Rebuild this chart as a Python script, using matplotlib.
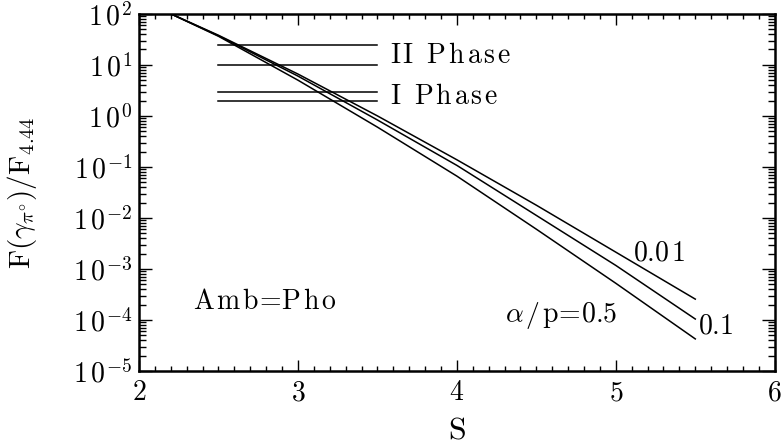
import numpy as np
import matplotlib
matplotlib.use("Agg")
import matplotlib.pyplot as plt
from matplotlib.ticker import FixedLocator, FuncFormatter, LogLocator, MultipleLocator

plt.rcParams['mathtext.fontset'] = 'cm'
plt.rcParams['font.family'] = 'serif'

# Data: S values and log10 of F ratio for each alpha/p
S = [2.2, 2.5, 3.0, 3.5, 4.0, 4.5, 5.0, 5.5]
logF_001 = [2.0, 1.58, 0.82, 0.00, -0.86, -1.75, -2.67, -3.59]
logF_01 = [2.0, 1.57, 0.78, -0.08, -0.97, -1.95, -2.93, -3.98]
logF_05 = [2.0, 1.56, 0.70, -0.22, -1.18, -2.22, -3.28, -4.37]

# Phase horizontal lines
phase_x = [2.5, 3.5]
phase2_levels = [25.0, 10.0]
phase1_levels = [3.0, 2.0]

xticks = [2, 3, 4, 5, 6]
yexps = [-5, -4, -3, -2, -1, 0, 1, 2]


def spaced(s, sp=0.12):
    """Letter-spaced mathtext string (roman)."""
    out = []
    n = len(s)
    for i, ch in enumerate(s):
        if ch == ' ':
            out.append(r'\ ')
        elif ch == '=':
            out.append(r'\!=\!')
        elif ch.isalpha():
            out.append(r'\mathrm{%s}' % ch)
        else:
            out.append(ch)
        if i < n - 1 and ch not in '=.' and s[i + 1] not in '=.':
            out.append(r'\hspace{%g}' % sp)
    return ''.join(out)


fig = plt.figure(figsize=(7.81, 4.46), dpi=100)
ax = fig.add_axes([0.178, 0.168, 0.814, 0.801])

lw = 1.1
for series in (logF_001, logF_01, logF_05):
    ax.plot(S, [10.0 ** v for v in series], color='black', lw=lw)

for lev in phase2_levels + phase1_levels:
    ax.plot(phase_x, [lev, lev], color='black', lw=lw)

ax.set_yscale('log')
ax.set_xlim(2, 6)
ax.set_ylim(1e-5, 1e2)

ax.xaxis.set_major_locator(FixedLocator(xticks))
ax.xaxis.set_minor_locator(MultipleLocator(0.1))
ax.xaxis.set_major_formatter(FuncFormatter(lambda v, p: r'$%d$' % round(v)))
ax.yaxis.set_major_locator(FixedLocator([10.0 ** e for e in yexps]))
ax.yaxis.set_minor_locator(LogLocator(base=10, subs=np.arange(2, 10), numticks=20))
ax.yaxis.set_major_formatter(FuncFormatter(lambda v, p: r'$1\,0^{%d}$' % round(np.log10(v))))

ax.tick_params(which='both', direction='in', top=True, right=True, labelsize=20, width=1.0)
ax.tick_params(axis='x', which='major', length=8, pad=6)
ax.tick_params(axis='x', which='minor', length=3.3)
ax.tick_params(axis='y', which='major', length=9.5, pad=5)
ax.tick_params(axis='y', which='minor', length=5)
for sp in ax.spines.values():
    sp.set_linewidth(1.8)

ax.set_xlabel(r'$\mathrm{S}$', fontsize=23)
ax.xaxis.set_label_coords(0.5, -0.122)
ax.set_ylabel(r'$\mathrm{F}(\gamma_{\pi^{\circ}})/\mathrm{F}_{4.44}$', fontsize=21)
ax.yaxis.set_label_coords(-0.157, 0.5)

tfs = 20
ax.text(3.58, 15.5, '$' + spaced('II Phase') + '$', fontsize=tfs, va='center', ha='left')
ax.text(3.58, 2.45, '$' + spaced('I Phase') + '$', fontsize=tfs, va='center', ha='left')
ax.text(5.11, 10 ** -2.69, '$' + spaced('0.01') + '$', fontsize=tfs, va='center', ha='left')
ax.text(5.52, 10 ** -4.12, '$' + spaced('0.1') + '$', fontsize=tfs, va='center', ha='left')
ax.text(4.30, 10 ** -3.92, r'$\alpha\hspace{0.12}/\hspace{0.12}' + spaced('p=0.5') + '$',
        fontsize=tfs, va='center', ha='left')
ax.text(2.34, 10 ** -3.63, '$' + spaced('Amb=Pho') + '$', fontsize=tfs, va='center', ha='left')

fig.savefig('out.png', dpi=100)
